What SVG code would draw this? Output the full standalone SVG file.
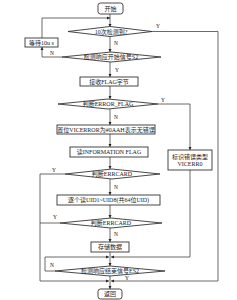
<svg xmlns="http://www.w3.org/2000/svg" width="237" height="300" viewBox="0 0 237 300">
<defs>
<marker id="ah" viewBox="0 0 6 6" refX="6" refY="3" markerWidth="4" markerHeight="4" orient="auto">
<path d="M0,0 L6,3 L0,6 z" fill="#222"/>
</marker>
<style>
.bx{fill:#fff;stroke:#333;stroke-width:0.9}
.dm{fill:#fff;stroke:#333;stroke-width:0.9}
.ln{fill:none;stroke:#444;stroke-width:0.8}
.ar{fill:none;stroke:#444;stroke-width:0.8;marker-end:url(#ah)}
text{font-family:"Liberation Serif","Noto Sans CJK SC",serif;font-size:6px;fill:#222;text-anchor:middle}
.lb{font-size:5.5px}
</style>
</defs>
<rect width="237" height="300" fill="#fff"/>
<g id="connectors">
<path class="ar" d="M110,14 V27"/>
<path class="ar" d="M42,38 V18 H110"/>
<path class="ar" d="M110,36 V52"/>
<path class="ar" d="M62,57 H42 V47"/>
<path class="ar" d="M110,62 V77"/>
<path class="ar" d="M110,86 V99"/>
<path class="ar" d="M110,109 V125"/>
<path class="ar" d="M110,134 V147"/>
<path class="ar" d="M110,157 V169"/>
<path class="ar" d="M110,179 V195"/>
<path class="ar" d="M110,205 V218"/>
<path class="ar" d="M110,228 V242"/>
<path class="ar" d="M110,252 V266"/>
<path class="ar" d="M110,276 V289"/>
<path class="ln" d="M152,31.5 H218 V281"/>
<path class="ar" d="M218,281 H111"/>
<path class="ar" d="M158,104 H190 V150"/>
<path class="ln" d="M190,170 V257"/>
<path class="ar" d="M190,257 H111"/>
<path class="ln" d="M65,174 H40 V281"/>
<path class="ar" d="M40,281 H109"/>
<path class="ln" d="M60,223 H40"/>
<path class="ln" d="M55,271 H45 V257"/>
<path class="ar" d="M45,257 H109"/>
<text class="lb" x="158" y="28">Y</text>
<text class="lb" x="116" y="45">N</text>
<text class="lb" x="52" y="55">N</text>
<text class="lb" x="117" y="72">Y</text>
<text class="lb" x="163" y="102">Y</text>
<text class="lb" x="116" y="119">N</text>
<text class="lb" x="54" y="172">Y</text>
<text class="lb" x="116" y="189">N</text>
<text class="lb" x="55" y="219">Y</text>
<text class="lb" x="116" y="236">N</text>
<text class="lb" x="52" y="267">N</text>
<text class="lb" x="127" y="280">Y</text>
</g>
<g id="start"><rect class="bx" x="98" y="3" width="25" height="11" rx="2.5"/><text x="110.5" y="10.8">开始</text></g>
<g id="d1"><polygon class="dm" points="68,31.5 110,26.5 152,31.5 110,36.5"/><text x="111" y="33.5">10次检测到?</text></g>
<g id="wait"><rect class="bx" x="25" y="38" width="33" height="9"/><text x="41.5" y="44.6">等待10u s</text></g>
<g id="d2"><polygon class="dm" points="62,57 111,52 161,57 111,62"/><text x="111" y="59">检测响应开始信号S2</text></g>
<g id="recv"><rect class="bx" x="80" y="77" width="58" height="9"/><text x="109" y="83.6">接收FLAG字节</text></g>
<g id="d3"><polygon class="dm" points="58,104 108,99 158,104 108,109"/><text x="108" y="106">判断ERROR_FLAG</text></g>
<g id="setok"><rect class="bx" x="57" y="125" width="98" height="9"/><text x="106" y="131.6">置位VICERROR为#0AAH表示无错误</text></g>
<g id="readinfo"><rect class="bx" x="70" y="147" width="78" height="10"/><text x="109" y="154.2">读INFORMATION FLAG</text></g>
<g id="markerr"><rect class="bx" x="168" y="150" width="44" height="20"/><text x="190" y="158.5">标识错误类型</text><text x="190" y="166">VICERR0</text></g>
<g id="d4"><polygon class="dm" points="65,174 112,169 160,174 112,179"/><text x="112" y="176">判断ERRCARD</text></g>
<g id="readuid"><rect class="bx" x="57" y="195" width="103" height="10"/><text x="108.5" y="202.2">逐个读UID1~UID8(共64位UID)</text></g>
<g id="d5"><polygon class="dm" points="60,223 111,218 162,223 111,228"/><text x="111" y="225">判断ERRCARD</text></g>
<g id="store"><rect class="bx" x="91" y="242" width="38" height="10"/><text x="110" y="249.2">存储数据</text></g>
<g id="d6"><polygon class="dm" points="55,271 110,266 165,271 110,276"/><text x="110" y="273">检测响应结束信号ES2</text></g>
<g id="ret"><rect class="bx" x="98" y="289" width="24" height="10" rx="2.5"/><text x="110" y="296.2">返回</text></g>
</svg>
